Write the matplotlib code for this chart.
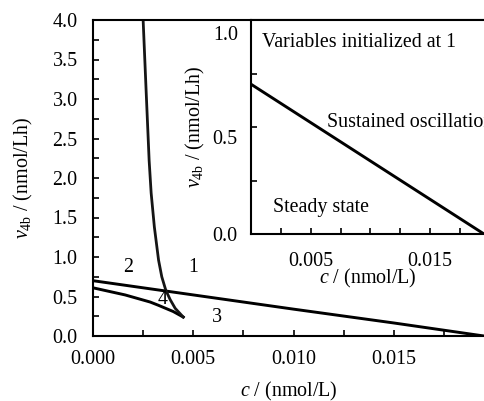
import matplotlib
matplotlib.use("Agg")
import matplotlib.pyplot as plt
from matplotlib.ticker import MultipleLocator, FixedLocator, FormatStrFormatter
from matplotlib.transforms import ScaledTranslation

plt.rcParams['font.family'] = ['Liberation Serif', 'DejaVu Serif']
plt.rcParams['mathtext.fontset'] = 'custom'
plt.rcParams['mathtext.rm'] = 'Liberation Serif'
plt.rcParams['mathtext.it'] = 'Liberation Serif:italic'

FS = 14.4

# Main panel data
lineA_c = [0.0, 0.005, 0.010, 0.015, 0.0195]
lineA_v = [0.70, 0.52, 0.34, 0.165, 0.0]

lineB_c = [0.0, 0.0016, 0.00285, 0.00325, 0.004, 0.0045]
lineB_v = [0.61, 0.52, 0.43, 0.39, 0.31, 0.24]

curveC_c = [0.00250, 0.00265, 0.00280, 0.00290, 0.00306, 0.00327, 0.00343, 0.00363, 0.00385, 0.00410, 0.00450]
curveC_v = [4.0, 3.1, 2.22, 1.81, 1.38, 0.96, 0.75, 0.58, 0.46, 0.35, 0.24]

region_labels = ['1', '2', '3', '4']
region_c = [0.0050, 0.00175, 0.0062, 0.00345]
region_v = [0.87, 0.87, 0.23, 0.46]

# Inset data
inset_c = [0.0, 0.0195]
inset_v = [0.70, 0.0]

fig = plt.figure(figsize=(4.84, 4.01), dpi=100)
ax = fig.add_axes([93/484, 65/401, 1 - 93/484, (336-20)/401])
ax.plot(lineA_c, lineA_v, color='black', lw=2.1)
ax.plot(lineB_c, lineB_v, color='black', lw=2.1, solid_joinstyle='round')
ax.plot(curveC_c, curveC_v, color='#151515', lw=2.0, solid_joinstyle='round')
for t, c, v in zip(region_labels, region_c, region_v):
    ax.text(c, v, t, fontsize=FS, ha='center', va='center')
ax.set_xlim(0, 0.0195)
ax.set_ylim(0, 4.0)
ax.xaxis.set_major_locator(FixedLocator([0.0, 0.005, 0.010, 0.015]))
ax.xaxis.set_minor_locator(MultipleLocator(0.0025))
ax.yaxis.set_major_locator(MultipleLocator(0.5))
ax.yaxis.set_minor_locator(MultipleLocator(0.25))
ax.xaxis.set_major_formatter(FormatStrFormatter('%.3f'))
ax.yaxis.set_major_formatter(FormatStrFormatter('%.1f'))
ax.tick_params(which='both', direction='in', length=4, width=1.2, labelsize=FS, top=False, right=False)
ax.tick_params(axis='x', pad=10)
ax.tick_params(axis='y', pad=11)
for s in ['left', 'bottom', 'top']:
    ax.spines[s].set_linewidth(1.5)
ax.spines['right'].set_visible(False)
ax.set_xlabel(r'$c$ / (nmol/L)', fontsize=FS, labelpad=8)
ax.set_ylabel(r'$v_{\rm 4b}$ / (nmol/Lh)', fontsize=FS, labelpad=13)

ins = fig.add_axes([251/484, (401-234)/401, (484-251)/484, (234-20)/401])
ins.plot(inset_c, inset_v, color='black', lw=2.1)
ins.set_xlim(0, 0.0195)
ins.set_ylim(0, 1.0)
ins.xaxis.set_major_locator(FixedLocator([0.005, 0.015]))
ins.xaxis.set_minor_locator(MultipleLocator(0.0025))
ins.yaxis.set_major_locator(FixedLocator([0.0, 0.5, 1.0]))
ins.yaxis.set_minor_locator(MultipleLocator(0.25))
ins.xaxis.set_major_formatter(FormatStrFormatter('%.3f'))
ins.yaxis.set_major_formatter(FormatStrFormatter('%.1f'))
ins.tick_params(which='both', direction='in', length=4, width=1.2, labelsize=FS, top=False, right=False)
ins.tick_params(axis='x', pad=13)
ins.tick_params(axis='y', pad=9.5)
for s in ['left', 'bottom', 'top']:
    ins.spines[s].set_linewidth(1.5)
ins.spines['right'].set_visible(False)
ins.set_xlabel(r'$c$ / (nmol/L)', fontsize=FS, labelpad=-3)
ins.set_ylabel(r'$v_{\rm 4b}$ / (nmol/Lh)', fontsize=FS, labelpad=4)
# the reference draws the upper inset tick labels slightly below their ticks
for tick, dy in zip(ins.yaxis.get_major_ticks(), [0, 10, 13]):
    tick.label1.set_transform(tick.label1.get_transform() + ScaledTranslation(0, -dy/100, fig.dpi_scale_trans))
ins.text(0.00092, 0.897, 'Variables initialized at 1', fontsize=FS, ha='left', va='center')
ins.text(0.00636, 0.523, 'Sustained oscillation', fontsize=FS, ha='left', va='center', clip_on=False)
ins.text(0.00184, 0.126, 'Steady state', fontsize=FS, ha='left', va='center')

fig.savefig('out.png', dpi=100)
